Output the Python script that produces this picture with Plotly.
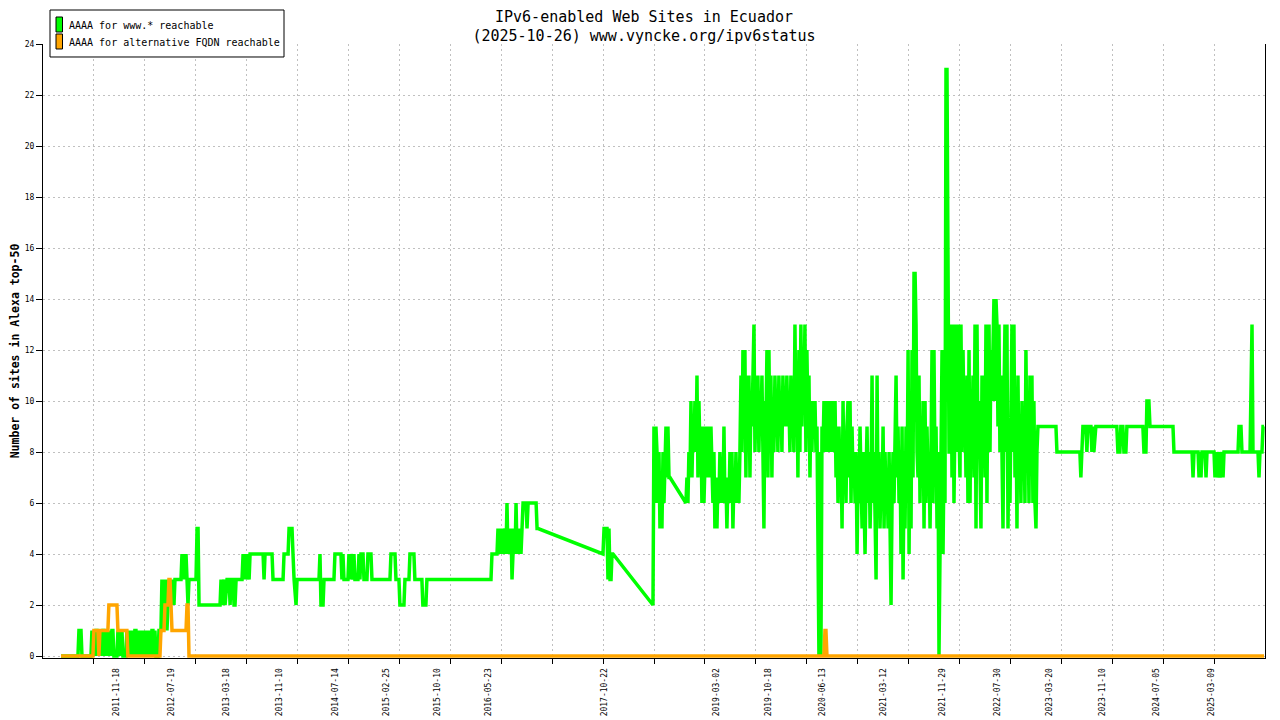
import datetime as dt
import plotly.graph_objects as go

# IPv6 web sites in Ecuador (Alexa top-50)
# x values are decimal years, converted to dates below

x_start = 2010.983
x_end = 2025.830

date_labels = ['2011-11-18', '2012-07-19', '2013-03-18', '2013-11-10', '2014-07-14',
               '2015-02-25', '2015-10-10', '2016-05-23', '2017-10-22', '2019-03-02',
               '2019-10-18', '2020-06-13', '2021-03-12', '2021-11-29', '2022-07-30',
               '2023-03-20', '2023-11-10', '2024-07-05', '2025-03-09']

www_name = 'AAAA for www.* reachable'
alt_name = 'AAAA for alternative FQDN reachable'

# AAAA for www.* reachable
www_2011_2014 = [
    (2011.202, 0), (2011.408, 0), (2011.420, 1), (2011.445, 1), (2011.457, 0), (2011.566, 0),
    (2011.578, 1), (2011.590, 0), (2011.602, 1), (2011.614, 0), (2011.627, 1), (2011.639, 1),
    (2011.651, 0), (2011.663, 1), (2011.675, 0), (2011.687, 1), (2011.699, 0), (2011.712, 1),
    (2011.724, 1), (2011.736, 0), (2011.748, 1), (2011.760, 0), (2011.772, 1), (2011.784, 0),
    (2011.797, 1), (2011.809, 0), (2011.821, 1), (2011.833, 1), (2011.845, 0), (2011.882, 0),
    (2011.894, 1), (2011.906, 0), (2011.918, 1), (2011.930, 0), (2011.943, 1), (2011.955, 0),
    (2011.991, 0), (2012.003, 1), (2012.015, 0), (2012.028, 1), (2012.040, 0), (2012.052, 1),
    (2012.064, 0), (2012.076, 1), (2012.088, 0), (2012.100, 1), (2012.113, 1), (2012.125, 0),
    (2012.137, 1), (2012.149, 0), (2012.161, 1), (2012.173, 0), (2012.186, 1), (2012.198, 0),
    (2012.210, 1), (2012.222, 0), (2012.234, 1), (2012.246, 0), (2012.258, 1), (2012.271, 0),
    (2012.283, 1), (2012.295, 0), (2012.307, 1), (2012.319, 1), (2012.331, 0), (2012.343, 1),
    (2012.356, 0), (2012.380, 0), (2012.392, 1), (2012.416, 1), (2012.428, 3), (2012.440, 1),
    (2012.453, 3), (2012.465, 2), (2012.477, 3), (2012.489, 1), (2012.501, 2), (2012.513, 3),
    (2012.526, 2), (2012.538, 3), (2012.550, 2), (2012.562, 3), (2012.574, 2), (2012.586, 3),
    (2012.659, 3), (2012.671, 4), (2012.683, 3), (2012.696, 4), (2012.708, 3), (2012.720, 4),
    (2012.732, 3), (2012.744, 2), (2012.756, 3), (2012.841, 3), (2012.854, 5), (2012.866, 5),
    (2012.878, 2), (2013.133, 2), (2013.145, 3), (2013.158, 2), (2013.182, 3), (2013.194, 2),
    (2013.218, 3), (2013.243, 3), (2013.255, 2), (2013.267, 3), (2013.291, 3), (2013.303, 2),
    (2013.315, 2), (2013.328, 3), (2013.400, 3), (2013.413, 4), (2013.425, 3), (2013.437, 4),
    (2013.449, 3), (2013.461, 4), (2013.486, 3), (2013.498, 4), (2013.656, 4), (2013.668, 3),
    (2013.680, 4), (2013.765, 4), (2013.777, 3), (2013.899, 3), (2013.911, 4), (2013.960, 4),
    (2013.972, 5), (2014.008, 5), (2014.020, 4), (2014.033, 3), (2014.057, 2), (2014.069, 3),
    (2014.336, 3), (2014.348, 4), (2014.360, 2), (2014.385, 2), (2014.397, 3), (2014.518, 3),
    (2014.530, 4), (2014.603, 4), (2014.615, 3), (2014.627, 4), (2014.640, 3), (2014.688, 3),
    (2014.700, 4), (2014.713, 3), (2014.725, 4), (2014.749, 3), (2014.761, 4), (2014.773, 3),
    (2014.810, 3), (2014.822, 4), (2014.834, 3), (2014.846, 4), (2014.871, 4), (2014.883, 3),
    (2014.919, 3), (2014.931, 4), (2014.968, 4), (2014.980, 3),
]

www_2015_2018 = [
    (2015.199, 3), (2015.211, 4), (2015.260, 4), (2015.272, 3), (2015.308, 3), (2015.320, 2),
    (2015.369, 2), (2015.381, 3), (2015.430, 3), (2015.442, 4), (2015.490, 4), (2015.502, 3),
    (2015.587, 3), (2015.599, 2), (2015.636, 2), (2015.648, 3), (2016.426, 3), (2016.438, 4),
    (2016.499, 4), (2016.511, 5), (2016.523, 4), (2016.535, 5), (2016.547, 4), (2016.559, 5),
    (2016.572, 4), (2016.596, 5), (2016.608, 4), (2016.620, 6), (2016.632, 4), (2016.644, 5),
    (2016.657, 4), (2016.669, 5), (2016.681, 3), (2016.693, 4), (2016.705, 5), (2016.718, 4),
    (2016.730, 6), (2016.742, 4), (2016.754, 5), (2016.766, 4), (2016.778, 5), (2016.790, 4),
    (2016.803, 5), (2016.815, 6), (2016.851, 6), (2016.863, 5), (2016.876, 6), (2016.973, 6),
    (2016.985, 5), (2016.997, 5), (2017.786, 4), (2017.799, 5), (2017.835, 5), (2017.847, 3),
    (2017.859, 5), (2017.872, 3), (2017.884, 3), (2017.896, 4), (2017.908, 4), (2018.394, 2),
]

www_2018_2020 = [
    (2018.406, 9), (2018.418, 6), (2018.430, 9), (2018.443, 8), (2018.455, 6), (2018.467, 8),
    (2018.479, 5), (2018.491, 7), (2018.503, 5), (2018.516, 8), (2018.528, 6), (2018.540, 8),
    (2018.552, 9), (2018.564, 7), (2018.576, 9), (2018.589, 7), (2018.601, 7), (2018.795, 6),
    (2018.807, 7), (2018.819, 6), (2018.831, 8), (2018.844, 7), (2018.856, 10), (2018.868, 7),
    (2018.880, 9), (2018.892, 8), (2018.904, 10), (2018.917, 8), (2018.929, 11), (2018.941, 7),
    (2018.953, 10), (2018.965, 8), (2018.977, 9), (2018.989, 6), (2019.001, 9), (2019.014, 6),
    (2019.026, 8), (2019.038, 9), (2019.050, 7), (2019.062, 9), (2019.074, 8), (2019.087, 7),
    (2019.099, 9), (2019.111, 7), (2019.123, 6), (2019.135, 8), (2019.147, 5), (2019.160, 7),
    (2019.172, 5), (2019.184, 7), (2019.196, 6), (2019.208, 8), (2019.220, 6), (2019.233, 7),
    (2019.245, 6), (2019.257, 9), (2019.269, 6), (2019.281, 7), (2019.293, 5), (2019.306, 7),
    (2019.318, 6), (2019.330, 8), (2019.342, 6), (2019.354, 8), (2019.366, 5), (2019.379, 7),
    (2019.391, 6), (2019.403, 8), (2019.415, 6), (2019.427, 7), (2019.439, 6), (2019.451, 8),
    (2019.464, 11), (2019.476, 8), (2019.488, 12), (2019.500, 9), (2019.512, 12), (2019.524, 7),
    (2019.537, 11), (2019.549, 9), (2019.561, 11), (2019.573, 7), (2019.585, 10), (2019.597, 9),
    (2019.609, 11), (2019.622, 13), (2019.634, 8), (2019.646, 10), (2019.658, 9), (2019.670, 11),
    (2019.682, 8), (2019.694, 10), (2019.707, 9), (2019.719, 11), (2019.731, 8), (2019.743, 5),
    (2019.755, 10), (2019.767, 9), (2019.780, 12), (2019.792, 7), (2019.804, 12), (2019.816, 8),
    (2019.828, 11), (2019.840, 7), (2019.852, 10), (2019.864, 8), (2019.877, 11), (2019.889, 9),
    (2019.901, 10), (2019.913, 8), (2019.925, 11), (2019.937, 9), (2019.950, 10), (2019.962, 8),
    (2019.974, 11), (2019.986, 9), (2019.998, 10), (2020.010, 9), (2020.022, 11), (2020.035, 9),
    (2020.047, 10), (2020.059, 8), (2020.071, 11), (2020.083, 9), (2020.095, 10), (2020.107, 8),
    (2020.120, 13), (2020.132, 9), (2020.144, 11), (2020.156, 7), (2020.168, 12), (2020.180, 8),
    (2020.192, 13), (2020.205, 9), (2020.217, 12), (2020.229, 10), (2020.241, 13), (2020.253, 8),
    (2020.265, 12), (2020.278, 9), (2020.290, 11), (2020.302, 7), (2020.314, 10), (2020.326, 8),
    (2020.338, 10), (2020.350, 9), (2020.363, 10), (2020.375, 8), (2020.387, 9),
]

www_2020_2023 = [
    (2020.399, 4), (2020.411, 0), (2020.423, 8), (2020.435, 0), (2020.448, 9), (2020.460, 8),
    (2020.472, 10), (2020.484, 8), (2020.496, 9), (2020.508, 10), (2020.521, 8), (2020.533, 9),
    (2020.545, 10), (2020.557, 8), (2020.569, 10), (2020.581, 9), (2020.593, 8), (2020.606, 10),
    (2020.618, 7), (2020.630, 9), (2020.642, 6), (2020.654, 9), (2020.666, 7), (2020.678, 8),
    (2020.691, 5), (2020.703, 10), (2020.715, 7), (2020.727, 8), (2020.739, 6), (2020.751, 9),
    (2020.763, 10), (2020.776, 7), (2020.788, 10), (2020.800, 6), (2020.812, 9), (2020.824, 7),
    (2020.836, 8), (2020.849, 6), (2020.861, 8), (2020.873, 4), (2020.885, 7), (2020.897, 6),
    (2020.909, 9), (2020.921, 7), (2020.934, 5), (2020.946, 8), (2020.958, 6), (2020.970, 4),
    (2020.982, 7), (2020.994, 9), (2021.007, 6), (2021.019, 8), (2021.031, 5), (2021.043, 7),
    (2021.055, 11), (2021.067, 6), (2021.079, 8), (2021.092, 5), (2021.104, 3), (2021.116, 11),
    (2021.128, 6), (2021.140, 8), (2021.152, 5), (2021.164, 7), (2021.177, 6), (2021.189, 9),
    (2021.201, 5), (2021.213, 8), (2021.225, 6), (2021.237, 7), (2021.250, 5), (2021.262, 8),
    (2021.274, 4), (2021.286, 2), (2021.298, 6), (2021.310, 8), (2021.322, 6), (2021.335, 10),
    (2021.347, 11), (2021.359, 7), (2021.371, 9), (2021.383, 6), (2021.395, 8), (2021.407, 4),
    (2021.420, 9), (2021.432, 3), (2021.444, 7), (2021.456, 5), (2021.468, 9), (2021.480, 6),
    (2021.493, 12), (2021.505, 4), (2021.517, 10), (2021.529, 5), (2021.541, 12), (2021.553, 7),
    (2021.565, 15), (2021.578, 15), (2021.590, 13), (2021.602, 8), (2021.614, 7), (2021.626, 11),
    (2021.638, 6), (2021.650, 9), (2021.663, 7), (2021.675, 10), (2021.687, 5), (2021.699, 10),
    (2021.711, 6), (2021.723, 9), (2021.735, 7), (2021.748, 8), (2021.760, 5), (2021.772, 8),
    (2021.784, 12), (2021.796, 6), (2021.808, 12), (2021.821, 7), (2021.833, 9), (2021.845, 5),
    (2021.857, 8), (2021.869, 0), (2021.881, 4), (2021.893, 9), (2021.906, 12), (2021.918, 4),
    (2021.930, 8), (2021.942, 6), (2021.954, 23), (2021.966, 23), (2021.979, 17), (2021.991, 8),
    (2022.003, 8), (2022.015, 13), (2022.027, 7), (2022.039, 13), (2022.051, 6), (2022.064, 11),
    (2022.076, 13), (2022.088, 8), (2022.100, 13), (2022.112, 9), (2022.124, 7), (2022.136, 13),
    (2022.149, 8), (2022.161, 12), (2022.173, 9), (2022.185, 10), (2022.197, 7), (2022.209, 11),
    (2022.221, 6), (2022.234, 12), (2022.246, 6), (2022.258, 10), (2022.270, 8), (2022.282, 11),
    (2022.294, 7), (2022.307, 13), (2022.319, 5), (2022.331, 13), (2022.343, 8), (2022.355, 10),
    (2022.367, 7), (2022.379, 5), (2022.392, 11), (2022.404, 8), (2022.416, 11), (2022.428, 7),
    (2022.440, 13), (2022.452, 6), (2022.465, 12), (2022.477, 13), (2022.489, 8), (2022.501, 12),
    (2022.513, 10), (2022.525, 12), (2022.537, 14), (2022.550, 10), (2022.562, 14), (2022.574, 13),
    (2022.586, 9), (2022.598, 13), (2022.610, 8), (2022.622, 11), (2022.635, 7), (2022.647, 5),
    (2022.659, 10), (2022.671, 13), (2022.683, 8), (2022.695, 13), (2022.708, 5), (2022.720, 9),
    (2022.732, 6), (2022.744, 10), (2022.756, 13), (2022.768, 8), (2022.780, 13), (2022.793, 7),
    (2022.805, 10), (2022.817, 5), (2022.829, 11), (2022.841, 7), (2022.853, 9), (2022.865, 6),
    (2022.878, 10), (2022.890, 7), (2022.902, 9), (2022.914, 6), (2022.926, 12), (2022.938, 8),
    (2022.950, 10), (2022.963, 6), (2022.975, 11), (2022.987, 8), (2022.999, 11), (2023.011, 6),
    (2023.023, 10), (2023.036, 6), (2023.048, 5), (2023.060, 8),
]

www_2023_2025 = [
    (2023.072, 9), (2023.291, 9), (2023.303, 8), (2023.582, 8), (2023.594, 7), (2023.606, 8),
    (2023.619, 9), (2023.655, 9), (2023.667, 8), (2023.679, 9), (2023.716, 9), (2023.728, 8),
    (2023.740, 9), (2023.752, 8), (2023.776, 9), (2024.031, 9), (2024.044, 8), (2024.068, 8),
    (2024.080, 9), (2024.104, 9), (2024.117, 8), (2024.141, 8), (2024.153, 9), (2024.347, 9),
    (2024.360, 8), (2024.384, 8), (2024.396, 10), (2024.420, 10), (2024.433, 9), (2024.712, 9),
    (2024.724, 8), (2024.943, 8), (2024.955, 7), (2024.967, 8), (2025.016, 8), (2025.028, 7),
    (2025.040, 8), (2025.052, 7), (2025.064, 8), (2025.101, 8), (2025.113, 7), (2025.125, 8),
    (2025.210, 8), (2025.222, 7), (2025.235, 8), (2025.247, 7), (2025.271, 8), (2025.283, 7),
    (2025.307, 8), (2025.320, 7), (2025.332, 8), (2025.502, 8), (2025.514, 9), (2025.538, 9),
    (2025.550, 8), (2025.648, 8), (2025.660, 10), (2025.672, 13), (2025.684, 8), (2025.745, 8),
    (2025.757, 7), (2025.769, 8), (2025.793, 8), (2025.806, 9), (2025.818, 9),
]

# AAAA for alternative FQDN reachable
alt_year = [2011.202, 2011.590, 2011.602, 2011.651, 2011.663, 2011.675, 2011.772, 2011.784,
            2011.882, 2011.894, 2012.003, 2012.015, 2012.404, 2012.416, 2012.453, 2012.465,
            2012.501, 2012.513, 2012.526, 2012.538, 2012.550, 2012.720, 2012.732, 2012.744,
            2012.756, 2020.472, 2020.484, 2020.496, 2020.508, 2025.818]
alt_count = [0, 0, 1, 1, 0, 1, 1, 2, 2, 1, 1, 0, 0, 1, 1, 2, 2, 3, 3, 2, 1, 1, 2, 2, 0,
             0, 1, 1, 0, 0]


def to_date(y):
    yr = int(y)
    a = dt.datetime(yr, 1, 1)
    b = dt.datetime(yr + 1, 1, 1)
    return a + (b - a) * (y - yr)


www = www_2011_2014 + www_2015_2018 + www_2018_2020 + www_2020_2023 + www_2023_2025
www_x = [to_date(p[0]) for p in www]
www_y = [p[1] for p in www]
alt_x = [to_date(y) for y in alt_year]

# gnuplot grid: 24 equal steps across the x range
x0 = to_date(x_start)
x1 = to_date(x_end)
step = (x1 - x0) / 24
grid_dates = [x0 + step * k for k in range(1, 24)]

mono = 'DejaVu Sans Mono'
grid_col = '#c0c0c0'
green = '#00ff00'
orange = '#ffa500'

fig = go.Figure()
fig.add_trace(go.Scatter(x=www_x, y=www_y, mode='lines', name=www_name,
                         line=dict(color=green, width=3.5)))
fig.add_trace(go.Scatter(x=alt_x, y=alt_count, mode='lines', name=alt_name,
                         line=dict(color=orange, width=3.5)))

# gnuplot style key box (top left, over the margin)
key_shapes = [
    dict(type='rect', xref='paper', yref='paper', x0=0.00573, x1=0.19722, y0=0.97883, y1=1.05537,
         line=dict(color='black', width=1), fillcolor='white'),
    dict(type='rect', xref='paper', yref='paper', x0=0.01064, x1=0.01596, y0=1.01954, y1=1.04397,
         line=dict(color='black', width=1), fillcolor=green),
    dict(type='rect', xref='paper', yref='paper', x0=0.01064, x1=0.01596, y0=0.99186, y1=1.01629,
         line=dict(color='black', width=1), fillcolor=orange),
]
key_text = [
    dict(text=www_name, xref='paper', yref='paper', x=0.01964, y=1.02932,
         xanchor='left', yanchor='middle', showarrow=False, font=dict(family=mono, size=10)),
    dict(text=alt_name, xref='paper', yref='paper', x=0.01964, y=1.00163,
         xanchor='left', yanchor='middle', showarrow=False, font=dict(family=mono, size=10)),
]

fig.update_layout(
    width=1272, height=712,
    margin=dict(l=35, r=15, t=36, b=62, autoexpand=False),
    paper_bgcolor='white', plot_bgcolor='white',
    font=dict(family=mono, color='black'),
    showlegend=False,
    title=dict(text='IPv6-enabled Web Sites in Ecuador<br>(2025-10-26) www.vyncke.org/ipv6status',
               x=0.5, xref='container', y=0.981, yanchor='top',
               font=dict(family=mono, size=15, color='black')),
    xaxis=dict(type='date', range=[x0, x1], automargin=False,
               tickmode='array', tickvals=date_labels, ticktext=date_labels,
               tickangle=-90, ticks='', ticklabelstandoff=6,
               tickfont=dict(family=mono, size=8),
               showgrid=False, zeroline=False,
               showline=True, linecolor='black', linewidth=1,
               minor=dict(tickmode='array', tickvals=grid_dates, ticks='outside', ticklen=5,
                          tickcolor='black', showgrid=True, gridcolor=grid_col, griddash='2px,3px')),
    yaxis=dict(range=[-0.0784, 24], tick0=0, dtick=2, automargin=False,
               ticks='outside', ticklen=6, tickcolor='black',
               tickfont=dict(family=mono, size=8),
               showgrid=True, gridcolor=grid_col, griddash='2px,3px', zeroline=False,
               showline=True, linecolor='black', linewidth=1, mirror=True,
               title=dict(text='<b>Number of sites in Alexa top-50</b>', standoff=9,
                          font=dict(family=mono, size=11.5))),
    shapes=key_shapes,
    annotations=key_text,
)

fig.write_html('out.html')
